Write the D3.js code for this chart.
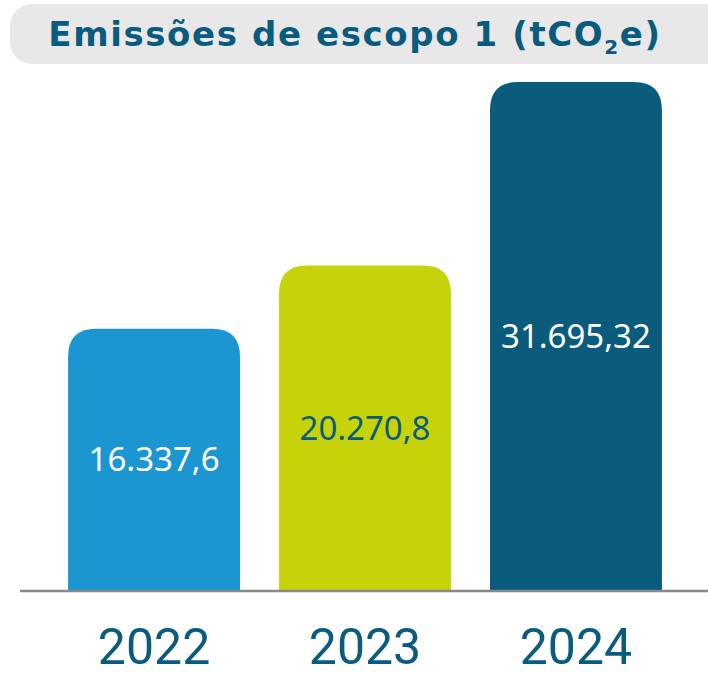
<!DOCTYPE html>
<html>
<head>
<meta charset="utf-8">
<script src="https://cdn.jsdelivr.net/npm/d3@7"></script>
<style>
  body { margin: 0; background: #fff; }
</style>
</head>
<body>
<div id="chart"></div>
<script>
// Data
const years = ["2022", "2023", "2024"];
const emissions = [16337.6, 20270.8, 31695.32];
const barColors = ["#1b96d1", "#c6d30a", "#0a5b7c"];
const labelColors = ["#ffffff", "#0a5b7c", "#ffffff"];

const width = 708, height = 678;
const baseY = 591;
const titleColor = "#0a5b7c";

const svg = d3.select("#chart")
    .append("svg")
    .attr("width", width)
    .attr("height", height);

// Title pill
svg.append("rect")
    .attr("x", 10).attr("y", 4)
    .attr("width", 720).attr("height", 60)
    .attr("rx", 22)
    .attr("fill", "#e8e8e8");

const title = svg.append("text")
    .attr("x", 355).attr("y", 46)
    .attr("text-anchor", "middle")
    .attr("font-family", "'DejaVu Sans', sans-serif")
    .attr("font-weight", 700)
    .attr("font-size", 34)
    .attr("letter-spacing", 1.6)
    .attr("fill", titleColor);
title.append("tspan").text("Emissões de escopo 1 (tCO");
title.append("tspan").attr("font-size", 20).attr("dy", 8).text("2");
title.append("tspan").attr("dy", -8).text("e)");

// Scales
const x = d3.scaleBand()
    .domain(years)
    .range([47, 683])
    .paddingInner(0.185)
    .paddingOuter(0.1);

const y = d3.scaleLinear()
    .domain([0, d3.max(emissions)])
    .range([baseY, 82]);

const fmt = d3.formatLocale({decimal: ",", thousands: ".", grouping: [3], currency: ["", ""]})
    .format(",.7~r");

// Bars with rounded top corners
const r = 28;
function barPath(x0, y0, w, h) {
    return `M${x0},${y0 + h}V${y0 + r}Q${x0},${y0} ${x0 + r},${y0}` +
        `H${x0 + w - r}Q${x0 + w},${y0} ${x0 + w},${y0 + r}V${y0 + h}Z`;
}

const data = years.map((yr, i) => ({year: yr, value: emissions[i], i}));

svg.selectAll(".bar")
    .data(data)
    .join("path")
    .attr("class", "bar")
    .attr("fill", d => barColors[d.i])
    .attr("d", d => barPath(x(d.year), y(d.value), x.bandwidth(), baseY - y(d.value)));

// Value labels
svg.selectAll(".val")
    .data(data)
    .join("text")
    .attr("class", "val")
    .attr("x", d => x(d.year) + x.bandwidth() / 2)
    .attr("y", d => (y(d.value) + baseY) / 2)
    .attr("dy", "0.35em")
    .attr("text-anchor", "middle")
    .attr("font-family", "'Noto Sans', 'Open Sans', sans-serif")
    .attr("font-size", 33)
    .attr("fill", d => labelColors[d.i])
    .text(d => fmt(d.value));

// Baseline
svg.append("line")
    .attr("x1", 20).attr("x2", width)
    .attr("y1", baseY).attr("y2", baseY)
    .attr("stroke", "#888")
    .attr("stroke-width", 2.5);

// Year labels
svg.selectAll(".year")
    .data(data)
    .join("text")
    .attr("class", "year")
    .attr("x", d => x(d.year) + x.bandwidth() / 2)
    .attr("y", 664)
    .attr("text-anchor", "middle")
    .attr("font-family", "Roboto, sans-serif")
    .attr("font-size", 50)
    .attr("fill", titleColor)
    .text(d => d.year);
</script>
</body>
</html>
